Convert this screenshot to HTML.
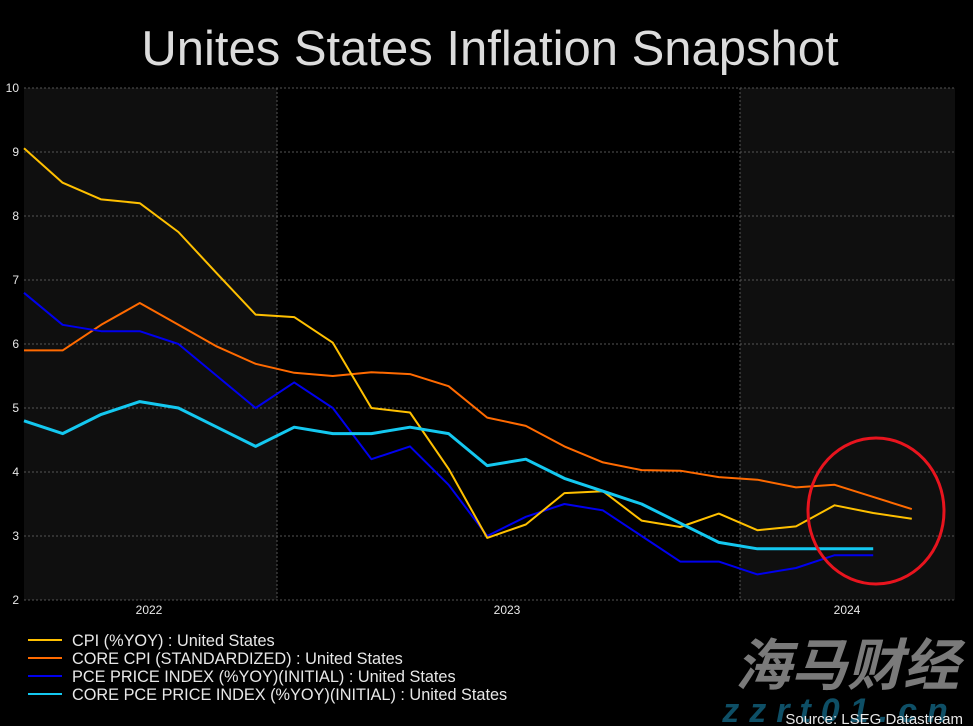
<!DOCTYPE html>
<html><head><meta charset="utf-8"><style>
html,body{margin:0;padding:0;background:#000;}
svg{display:block;font-family:"Liberation Sans",Arial,sans-serif;}
</style></head><body>
<svg width="973" height="726" viewBox="0 0 973 726">
<rect width="973" height="726" fill="#000"/>
<text x="490" y="65" text-anchor="middle" font-size="49" fill="#dcdcdc">Unites States Inflation Snapshot</text>
<rect x="24" y="88" width="253" height="512" fill="#0f0f0f"/>
<rect x="740" y="88" width="215" height="512" fill="#0f0f0f"/>
<g stroke="#555" stroke-width="1" stroke-dasharray="2,2">
<line x1="24" y1="88" x2="955" y2="88"/><line x1="24" y1="152" x2="955" y2="152"/>
<line x1="24" y1="216" x2="955" y2="216"/><line x1="24" y1="280" x2="955" y2="280"/>
<line x1="24" y1="344" x2="955" y2="344"/><line x1="24" y1="408" x2="955" y2="408"/>
<line x1="24" y1="472" x2="955" y2="472"/><line x1="24" y1="536" x2="955" y2="536"/>
<line x1="24" y1="600" x2="955" y2="600"/>
<line x1="277" y1="88" x2="277" y2="600"/><line x1="740" y1="88" x2="740" y2="600"/>
</g>
<g font-size="12" fill="#e8e8e8" text-anchor="end">
<text x="19" y="92">10</text><text x="19" y="156">9</text><text x="19" y="220">8</text>
<text x="19" y="284">7</text><text x="19" y="348">6</text><text x="19" y="412">5</text>
<text x="19" y="476">4</text><text x="19" y="540">3</text><text x="19" y="604">2</text>
</g>
<g font-size="12" fill="#e8e8e8" text-anchor="middle">
<text x="149" y="614">2022</text><text x="507" y="614">2023</text><text x="847" y="614">2024</text>
</g>
<g fill="none" stroke-width="2" stroke-linejoin="round">
<polyline stroke="#ff6a00" points="24,350.4 62.6,350.4 101.2,324.8 139.8,303 178.4,324.8 217,346.6 255.6,363.8 294.2,372.8 332.8,376 371.4,372.2 410,374.1 448.6,386.2 487.2,417.6 525.8,425.9 564.4,446.4 603,462.4 641.6,470.1 680.2,470.7 718.8,477.1 757.4,479.7 796,487.4 834.6,484.8 873.2,496.9 911.8,509.1"/>
<polyline stroke="#0000ee" points="24,292.8 62.6,324.8 101.2,331.2 139.8,331.2 178.4,344 217,376 255.6,408 294.2,382.4 332.8,408 371.4,459.2 410,446.4 448.6,484.8 487.2,536 525.8,516.8 564.4,504 603,510.4 641.6,536 680.2,561.6 718.8,561.6 757.4,574.4 796,568 834.6,555.2 873.2,555.2"/>
<polyline stroke="#ffc000" points="24,148.2 62.6,182.7 101.2,199.4 139.8,203.2 178.4,232 217,273.6 255.6,314.6 294.2,317.1 332.8,342.7 371.4,408 410,412.5 448.6,468.8 487.2,537.9 525.8,524.5 564.4,493.1 603,491.2 641.6,520.6 680.2,527 718.8,513.6 757.4,530.2 796,526.4 834.6,505.3 873.2,513 911.8,518.7"/>
<polyline stroke="#14c8f0" stroke-width="3" points="24,420.8 62.6,433.6 101.2,414.4 139.8,401.6 178.4,408 217,427.2 255.6,446.4 294.2,427.2 332.8,433.6 371.4,433.6 410,427.2 448.6,433.6 487.2,465.6 525.8,459.2 564.4,478.4 603,491.2 641.6,504 680.2,523.2 718.8,542.4 757.4,548.8 796,548.8 834.6,548.8 873.2,548.8"/>
</g>
<ellipse cx="876" cy="511" rx="68" ry="73" fill="none" stroke="#e8141e" stroke-width="3"/>
<g stroke-width="2">
<line x1="28" y1="640" x2="62" y2="640" stroke="#ffc000"/>
<line x1="28" y1="658" x2="62" y2="658" stroke="#ff6a00"/>
<line x1="28" y1="676" x2="62" y2="676" stroke="#0000ee"/>
<line x1="28" y1="694" x2="62" y2="694" stroke="#14c8f0"/>
</g>
<g font-size="16.3" fill="#e8e8e8">
<text x="72" y="646">CPI (%YOY) : United States</text>
<text x="72" y="664">CORE CPI (STANDARDIZED) : United States</text>
<text x="72" y="682">PCE PRICE INDEX (%YOY)(INITIAL) : United States</text>
<text x="72" y="700">CORE PCE PRICE INDEX (%YOY)(INITIAL) : United States</text>
</g>
<text x="847" y="685" text-anchor="middle" font-size="56" font-weight="bold" font-style="italic" fill="#7a7a7a" font-family="'Noto Sans CJK SC',sans-serif">海马财经</text>
<text x="840" y="722" text-anchor="middle" font-size="34" font-weight="bold" font-style="italic" fill="#0e4f66" letter-spacing="10">zzrt01.cn</text>
<text x="963" y="724" text-anchor="end" font-size="15" fill="#e8e8e8">Source: LSEG Datastream</text>
</svg>
</body></html>
